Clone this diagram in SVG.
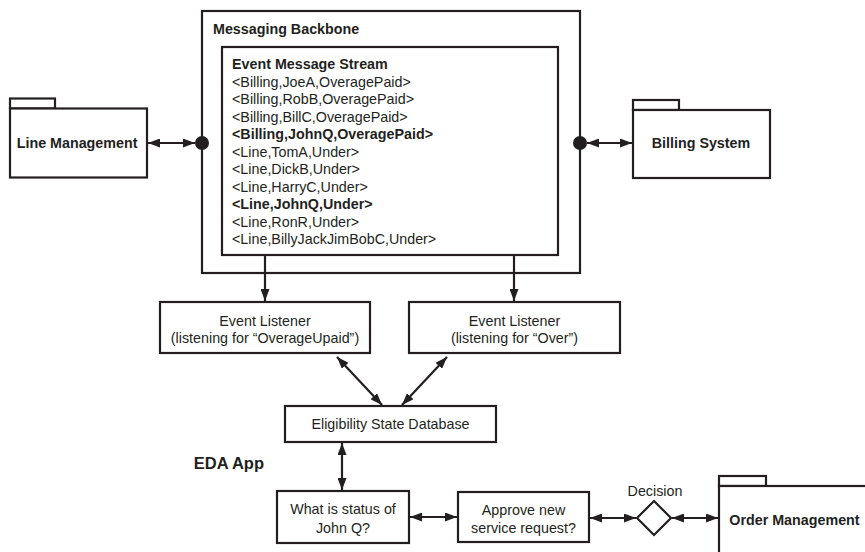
<svg xmlns="http://www.w3.org/2000/svg" width="865" height="552" viewBox="0 0 865 552">
<defs>
<style>
text{font-family:"Liberation Sans",Arial,Helvetica,sans-serif;font-size:14.3px;fill:#231f20}
.b{font-weight:bold}
.c{text-anchor:middle}
.box{fill:#fff;stroke:#231f20;stroke-width:2.2}
.ln{fill:none;stroke:#231f20;stroke-width:2.2}
</style>
<marker id="ah" viewBox="0 0 12 9" refX="12" refY="4.5" markerWidth="12" markerHeight="9" markerUnits="userSpaceOnUse" orient="auto-start-reverse">
<path d="M0,0 L12,4.5 L0,9 Z" fill="#231f20"/>
</marker>
</defs>
<rect width="865" height="552" fill="#fff"/>

<g id="messaging-backbone">
<rect class="box" x="202" y="11" width="378" height="262" stroke-width="2.6"/>
<text class="b" x="213" y="33.5">Messaging Backbone</text>
</g>

<g id="event-message-stream">
<rect class="box" x="222" y="47" width="336" height="208"/>
<text class="b" x="232" y="69">Event Message Stream</text>
<text x="232" y="86.5">&lt;Billing,JoeA,OveragePaid&gt;</text>
<text x="232" y="104">&lt;Billing,RobB,OveragePaid&gt;</text>
<text x="232" y="121.5">&lt;Billing,BillC,OveragePaid&gt;</text>
<text class="b" x="232" y="139">&lt;Billing,JohnQ,OveragePaid&gt;</text>
<text x="232" y="156.5">&lt;Line,TomA,Under&gt;</text>
<text x="232" y="174">&lt;Line,DickB,Under&gt;</text>
<text x="232" y="191.5">&lt;Line,HarryC,Under&gt;</text>
<text class="b" x="232" y="209">&lt;Line,JohnQ,Under&gt;</text>
<text x="232" y="226.5">&lt;Line,RonR,Under&gt;</text>
<text x="232" y="244">&lt;Line,BillyJackJimBobC,Under&gt;</text>
</g>

<g id="line-management">
<rect class="box" x="10" y="98.5" width="45" height="10"/>
<rect class="box" x="10" y="108.5" width="137" height="69"/>
<text class="b" x="16.7" y="147.5">Line Management</text>
</g>

<g id="billing-system">
<rect class="box" x="633" y="100" width="46" height="10"/>
<rect class="box" x="633" y="110" width="137" height="68"/>
<text class="b c" x="701" y="148">Billing System</text>
</g>

<g id="listener-overage">
<rect class="box" x="160" y="302" width="210" height="51"/>
<text class="c" x="265" y="325.5">Event Listener</text>
<text class="c" x="265" y="343">(listening for “OverageUpaid”)</text>
</g>

<g id="listener-over">
<rect class="box" x="409" y="302" width="211" height="51"/>
<text class="c" x="514.5" y="325.5">Event Listener</text>
<text class="c" x="514.5" y="343">(listening for “Over”)</text>
</g>

<g id="eligibility-db">
<rect class="box" x="285" y="406" width="211" height="36"/>
<text class="c" x="390.5" y="429">Eligibility State Database</text>
</g>

<g id="eda-app">
<text class="b" x="264" y="469" style="font-size:16.5px;text-anchor:end">EDA App</text>
</g>

<g id="status-query">
<rect class="box" x="277" y="491" width="132" height="52"/>
<text class="c" x="343" y="514">What is status of</text>
<text class="c" x="343" y="532.5">John Q?</text>
</g>

<g id="approve-request">
<rect class="box" x="458" y="492" width="131" height="50"/>
<text class="c" x="523.5" y="515">Approve new</text>
<text class="c" x="523.5" y="532.5">service request?</text>
</g>

<g id="decision">
<polygon class="box" points="637,518 654,501 671,518 654,535"/>
<text class="c" x="655" y="496">Decision</text>
</g>

<g id="order-management">
<rect class="box" x="719" y="476" width="47" height="10"/>
<rect class="box" x="719" y="486" width="170" height="90"/>
<text class="b" x="729.3" y="525">Order Management</text>
</g>

<g id="connectors">
<line class="ln" x1="148" y1="143" x2="195" y2="143" marker-start="url(#ah)" marker-end="url(#ah)"/>
<circle cx="202" cy="143" r="7" fill="#231f20"/>
<line class="ln" x1="587" y1="143" x2="632" y2="143" marker-start="url(#ah)" marker-end="url(#ah)"/>
<circle cx="580" cy="143" r="7" fill="#231f20"/>
<line class="ln" x1="265" y1="255" x2="265" y2="301" marker-end="url(#ah)"/>
<line class="ln" x1="514" y1="255" x2="514" y2="301" marker-end="url(#ah)"/>
<line class="ln" x1="337" y1="357" x2="382" y2="405" marker-start="url(#ah)" marker-end="url(#ah)"/>
<line class="ln" x1="447" y1="357" x2="402" y2="405" marker-start="url(#ah)" marker-end="url(#ah)"/>
<line class="ln" x1="342" y1="443" x2="342" y2="490" marker-start="url(#ah)" marker-end="url(#ah)"/>
<line class="ln" x1="410" y1="517" x2="457" y2="517" marker-start="url(#ah)" marker-end="url(#ah)"/>
<line class="ln" x1="590" y1="518" x2="636" y2="518" marker-start="url(#ah)" marker-end="url(#ah)"/>
<line class="ln" x1="672" y1="518" x2="718" y2="518" marker-start="url(#ah)" marker-end="url(#ah)"/>
</g>
</svg>
